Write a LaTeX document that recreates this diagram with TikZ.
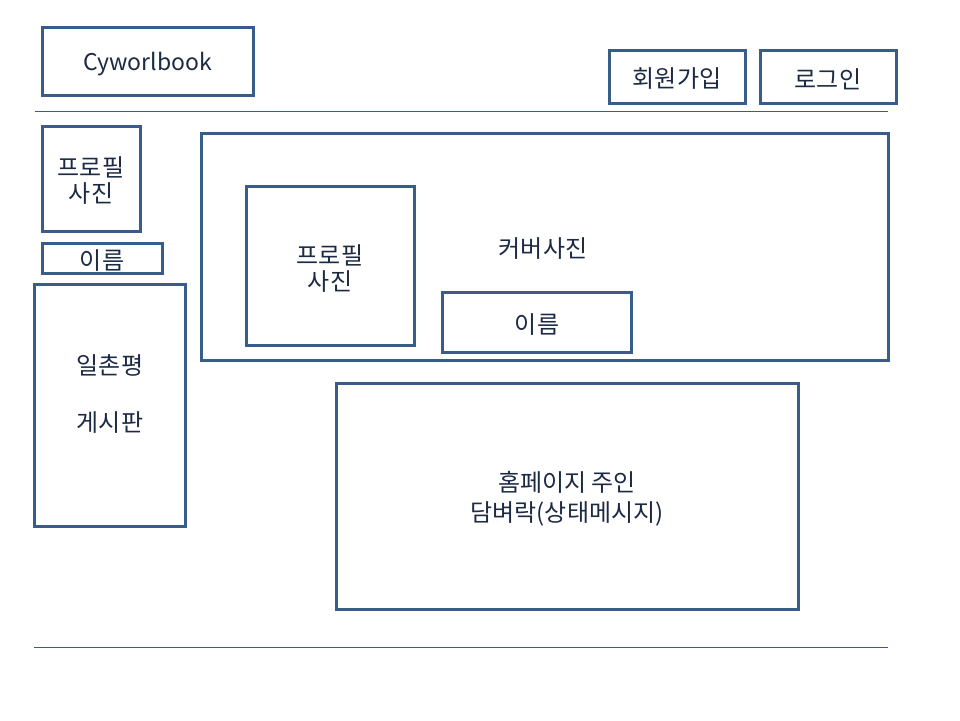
\documentclass[tikz,border=0pt]{standalone}
\usepackage{fontspec}
\setmainfont{Noto Sans CJK KR}
\definecolor{bd}{HTML}{385D8A}
\definecolor{tx}{HTML}{1C2A44}
\begin{document}
\begin{tikzpicture}[x=1pt,y=-1pt,
  box/.style={draw=bd,line width=3pt,rectangle},
  lbl/.style={text=tx,font=\fontsize{24}{26}\selectfont,align=center,inner sep=0pt},
  rule/.style={draw=bd,line width=1pt}]
\useasboundingbox[fill=white] (0,0) rectangle (960,720);
% header
\draw[box] (42,27) rectangle (253,95);
\node[lbl,font=\fontsize{23}{26}\selectfont] (logo) at (147.5,64) {Cyworlbook};
\draw[box] (609,50) rectangle (745,103);
\node[lbl] (join) at (677,79) {회원가입};
\draw[box] (760,50) rectangle (896,103);
\node[lbl] (login) at (828,79) {로그인};
\coordinate (l1a) at (35,111);
\coordinate (l1b) at (888,111);
\draw[rule] (l1a) -- (l1b);
% left column
\draw[box] (42,126) rectangle (140,231);
\node[lbl] (pp1) at (91,181) {프로필\\사진};
\draw[box] (42,243) rectangle (162,273);
\node[lbl] (nm1) at (102,261) {이름};
\draw[box] (34,284) rectangle (185,526);
\node[lbl] (b1) at (110,365) {일촌평};
\node[lbl] (b2) at (110,423) {게시판};
% cover
\draw[box] (201,133) rectangle (888,360);
\node[lbl] (cover) at (543,249) {커버사진};
\draw[box] (246,186) rectangle (414,345);
\node[lbl] (pp2) at (330,269) {프로필\\사진};
\draw[box] (442,292) rectangle (631,352);
\node[lbl] (nm2) at (537,325) {이름};
% status
\draw[box] (336,383) rectangle (798,609);
\node[lbl,font=\fontsize{24}{30}\selectfont] (st) at (567,499) {홈페이지 주인\\담벼락(상태메시지)};
\coordinate (l2a) at (34,647);
\coordinate (l2b) at (888,647);
\draw[rule] (l2a) -- (l2b);
\end{tikzpicture}
\end{document}
